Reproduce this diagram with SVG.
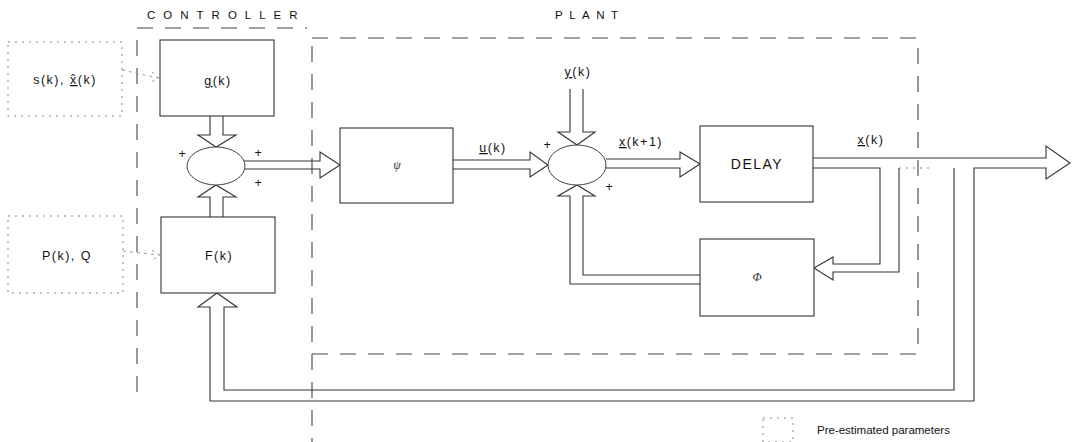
<svg xmlns="http://www.w3.org/2000/svg" width="1076" height="442" viewBox="0 0 1076 442">
<style>
.ln{fill:none;stroke:#333;stroke-width:1.1}
.dash{fill:none;stroke:#444;stroke-width:1.1;stroke-dasharray:16 12}
.dot{fill:none;stroke:#888;stroke-width:1;stroke-dasharray:2 5}
.faint{fill:none;stroke:#999;stroke-width:1;stroke-dasharray:3 4}
.box{fill:#fff;stroke:#333;stroke-width:1.1}
.sum{fill:#fff;stroke:#444;stroke-width:1}
.t{font-family:"Liberation Sans",Arial,sans-serif;font-size:12.5px;fill:#111;letter-spacing:1.5px;text-anchor:middle}
.title{font-family:"Liberation Sans",Arial,sans-serif;font-size:11.5px;fill:#111;text-anchor:start}
.pl{font-family:"Liberation Sans",Arial,sans-serif;font-size:14px;fill:#111;font-weight:bold}
.gr{font-family:"Liberation Serif","DejaVu Serif",serif;font-size:12px;font-style:italic;fill:#333;text-anchor:middle}
</style>
<rect width="1076" height="442" fill="#fff"/>
<g id="boundaries">
  <path class="dash" d="M137,392 V28 H307"/>
  <rect class="dash" x="312" y="38" width="606" height="316"/>
  <path class="dash" d="M312,354 V442"/>
  <text class="title" x="147" y="19" style="letter-spacing:8px">CONTROLLER</text>
  <text class="title" x="555" y="19" style="letter-spacing:6.5px">PLANT</text>
</g>
<g id="connectors">
  <path class="faint" d="M122,70 L158,78 M152,72 L159,78 L151,82"/>
  <path class="faint" d="M123,251 L159,255 M152,250 L160,255 L152,260"/>
  <path class="ln" d="M210,116 V135 H198 L216,147 L236,135 H223 V116"/>
  <path class="ln" d="M210,217 V197 H198 L216,185 L236,197 H223 V217"/>
  <path class="ln" d="M244,161 H320 V152 L340,165 L320,178 V169 H244"/>
  <path class="ln" d="M453,160 H530 V152 L548,165 L530,177 V169 H453"/>
  <path class="ln" d="M570,89 V132 H558 L577,145 L595,132 H583 V89"/>
  <path class="ln" d="M700,284 H570 V196 H558 L577,185 L595,196 H583 V275 H700"/>
  <path class="ln" d="M606,159 H680 V152 L700,164 L680,177 V168 H606"/>
  <path class="ln" d="M813,158 H1046 V146 L1070,163 L1046,179 V168 H974 V401 H210 V307 H198 L217,293 L237,307 H224 V390 H954 V168"/>
  <path class="ln" d="M813,168 H880 V264 H833 V257 L814,268 L833,280 V272 H899 V168"/>
  <path class="dot" d="M899,168 H932"/>
</g>
<g id="s-box">
  <rect class="dot" x="8" y="42" width="114" height="74"/>
  <text class="t" x="65" y="84">s(k), <tspan text-decoration="underline">x̂</tspan>(k)</text>
</g>
<g id="p-box">
  <rect class="dot" x="8" y="216" width="115" height="77"/>
  <text class="t" x="67" y="260">P(k), Q</text>
</g>
<g id="g-box">
  <rect class="box" x="160" y="40" width="114" height="76"/>
  <text class="t" x="218" y="85"><tspan text-decoration="underline">g</tspan>(k)</text>
</g>
<g id="f-box">
  <rect class="box" x="161" y="217" width="114" height="76"/>
  <text class="t" x="219" y="260">F(k)</text>
</g>
<g id="sum1">
  <ellipse class="sum" cx="216" cy="166" rx="29" ry="19"/>
  <text class="t" x="183" y="158">+</text>
  <text class="t" x="259" y="157">+</text>
  <text class="t" x="259" y="187">+</text>
</g>
<g id="psi-box">
  <rect class="box" x="340" y="128" width="113" height="75"/>
  <text class="gr" x="397" y="169">ψ</text>
</g>
<g id="sum2">
  <ellipse class="sum" cx="577" cy="165" rx="29" ry="20"/>
  <text class="t" x="548" y="149">+</text>
  <text class="t" x="610" y="191">+</text>
</g>
<g id="delay-box">
  <rect class="box" x="700" y="126" width="113" height="76"/>
  <text class="t" x="757" y="169" style="font-size:14px;letter-spacing:1.5px">DELAY</text>
</g>
<g id="phi-box">
  <rect class="box" x="700" y="239" width="114" height="77"/>
  <text class="gr" x="757" y="281">Φ</text>
</g>
<g id="labels">
  <text class="t" x="493" y="152"><tspan text-decoration="underline">u</tspan>(k)</text>
  <text class="t" x="578" y="76"><tspan text-decoration="underline">y</tspan>(k)</text>
  <text class="t" x="641" y="146"><tspan text-decoration="underline">x</tspan>(k+1)</text>
  <text class="t" x="871" y="144"><tspan text-decoration="underline">x</tspan>(k)</text>
</g>
<g id="legend">
  <rect class="dot" x="763" y="418" width="30" height="24"/>
  <text class="title" x="817" y="434" style="font-size:11.5px">Pre-estimated parameters</text>
</g>
</svg>
